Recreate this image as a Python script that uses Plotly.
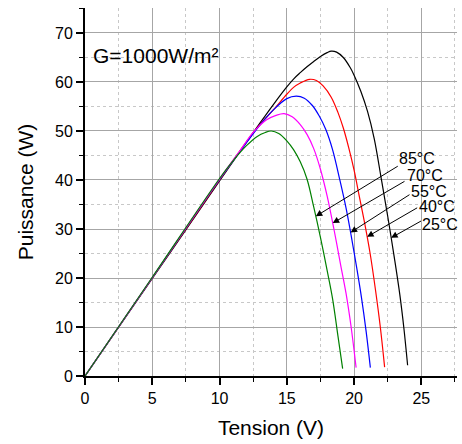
import numpy as np
import plotly.graph_objects as go

# ---- data ----
labels = ["25°C", "40°C", "55°C", "70°C", "85°C"]
colors = ["#000000", "#ff0000", "#0000ff", "#ff00ff", "#008000"]

v_25 = [0, 5, 10, 12, 13, 14, 15, 15.5, 16, 16.5, 17, 17.5, 18, 18.3, 18.7, 19.2, 19.7, 20.0,
        20.5, 21.0, 21.5, 22.0, 22.5, 23.0, 23.4, 23.7, 23.98]
p_25 = [0, 19.9, 39.8, 47.7, 51.6, 55.4, 59.0, 60.6, 61.9, 63.1, 64.2, 65.2, 66.0, 66.3, 66.1,
        65.0, 63.0, 61.4, 58.1, 54.0, 48.4, 40.6, 32.6, 24.0, 16.6, 9.8, 2.2]

v_40 = [0, 5, 10, 12, 13, 14, 15, 15.5, 16, 16.7, 17.2, 17.7, 18.3, 18.8, 19.2, 19.6, 20.0,
        20.4, 20.8, 21.2, 21.6, 21.95, 22.27]
p_40 = [0, 20.0, 40.0, 47.8, 51.3, 54.3, 57.5, 58.9, 59.8, 60.55, 60.3, 59.2, 56.9, 53.8, 50.6,
        46.6, 42.0, 36.5, 31.0, 24.9, 17.4, 10.0, 1.8]

v_55 = [0, 5, 10, 12, 13, 14, 15, 15.7, 16.3, 16.9, 17.4, 17.9, 18.4, 18.95, 19.4, 19.8, 20.2,
        20.55, 20.9, 21.21]
p_55 = [0, 20.05, 40.1, 47.6, 51.2, 54.3, 56.6, 57.1, 56.7, 55.2, 53.1, 50.3, 46.2, 39.9, 34.3,
        28.4, 22.0, 16.0, 9.0, 1.7]

v_70 = [0, 5, 10, 11.5, 12.5, 13.5, 14.2, 14.8, 15.4, 16.0, 16.5, 17.0, 17.5, 18.0, 18.5, 19.0,
        19.4, 19.78, 20.15]
p_70 = [0, 20.1, 40.2, 45.9, 49.7, 52.3, 53.2, 53.55, 52.9, 51.3, 49.3, 46.4, 42.2, 36.7, 30.0,
        22.7, 16.9, 10.0, 1.7]

v_85 = [0, 5, 10, 11.0, 12.0, 12.8, 13.4, 13.84, 14.4, 15.0, 15.5, 16.0, 16.5, 17.0, 17.5, 18.0,
        18.4, 18.8, 19.15]
p_85 = [0, 20.15, 40.3, 43.9, 47.0, 48.9, 49.7, 50.0, 49.5, 48.0, 46.2, 43.7, 40.2, 34.5, 28.3,
        21.5, 15.8, 8.2, 1.5]

series_v = [v_25, v_40, v_55, v_70, v_85]
series_p = [p_25, p_40, p_55, p_70, p_85]

# power level (W) on the falling branch where each arrow touches its curve
arrow_p = [28.2, 28.4, 29.3, 31.2, 32.6]
# arrow tails and label anchors (data units)
arrow_tail_v = [25.09, 24.8, 24.23, 23.86, 23.36]
arrow_tail_p = [31.8, 34.5, 37.2, 39.9, 43.0]
label_v = [24.98, 24.75, 24.15, 23.86, 23.28]
label_p = [30.9, 34.5, 37.7, 41.0, 44.3]

FONT = "Liberation Sans, Arial, sans-serif"

fig = go.Figure()
for v, p, c, name in zip(series_v, series_p, colors, labels):
    fig.add_trace(go.Scatter(x=v, y=p, mode="lines", name=name,
                             line=dict(color=c, width=1.2, shape="spline", smoothing=1.0),
                             showlegend=False))

annotations = []
for v, p, ap, tv, tp, lv, lp, name in zip(series_v, series_p, arrow_p, arrow_tail_v,
                                          arrow_tail_p, label_v, label_p, labels):
    k = int(np.argmax(p))
    fv = np.array(v[k:])[::-1]
    fp = np.array(p[k:])[::-1]
    hv = float(np.interp(ap, fp, fv))
    annotations.append(dict(x=hv, y=ap, ax=tv, ay=tp, xref="x", yref="y",
                            axref="x", ayref="y", text="", showarrow=True,
                            arrowhead=2, arrowsize=1.3, arrowwidth=1, arrowcolor="black"))
    annotations.append(dict(x=lv, y=lp, xref="x", yref="y", text=name, showarrow=False,
                            xanchor="left", yanchor="middle", borderpad=0,
                            font=dict(family=FONT, size=16, color="black")))

annotations.append(dict(x=0.45, y=65.4, xref="x", yref="y", text="G=1000W/m²",
                        showarrow=False, xanchor="left", yanchor="middle",
                        font=dict(family=FONT, size=21, color="black")))

axis_common = dict(
    showline=True, linewidth=2, linecolor="black",
    ticks="outside", ticklen=7, tickwidth=1.5, tickcolor="black",
    showgrid=True, gridcolor="#a6a6a6", gridwidth=1,
    zeroline=False, mirror=False,
    tickfont=dict(family=FONT, size=16, color="black"),
)

fig.update_xaxes(range=[0, 27.65], tick0=0, dtick=5,
                 title=dict(text="Tension (V)", font=dict(family=FONT, size=21, color="black"), standoff=14),
                 minor=dict(dtick=2.5, ticks="outside", ticklen=4, tickcolor="black", tickwidth=1,
                            showgrid=True, gridcolor="#c8c8c8", griddash="dot", gridwidth=1),
                 **axis_common)
fig.update_yaxes(range=[0, 75.1], tick0=0, dtick=10,
                 title=dict(text="Puissance (W)", font=dict(family=FONT, size=21, color="black"), standoff=16),
                 minor=dict(dtick=5, ticks="outside", ticklen=4, tickcolor="black", tickwidth=1,
                            showgrid=True, gridcolor="#c8c8c8", griddash="dot", gridwidth=1),
                 **axis_common)

fig.update_layout(width=462, height=444,
                  margin=dict(l=85, r=5, t=8, b=68),
                  paper_bgcolor="white", plot_bgcolor="white",
                  annotations=annotations,
                  font=dict(family=FONT, color="black"))

fig.write_html("out.html")
